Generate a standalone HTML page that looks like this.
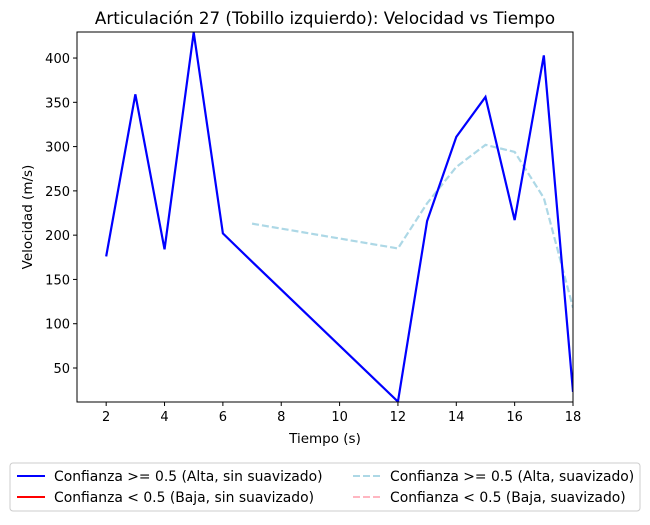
<!DOCTYPE html>
<html><head><meta charset="utf-8"><style>
body{margin:0;background:#fff;font-family:"Liberation Sans","DejaVu Sans",sans-serif;}
</style></head><body>
<svg width="650" height="520" xmlns="http://www.w3.org/2000/svg" font-family="DejaVu Sans, Liberation Sans, sans-serif">
<text x="325" y="24" text-anchor="middle" font-size="16.7">Articulación 27 (Tobillo izquierdo): Velocidad vs Tiempo</text>
<g id="axes"></g>
<g id="series"></g>
<rect x="77" y="32" width="496" height="370" fill="none" stroke="#000" stroke-width="1"/>
<text x="325" y="443" text-anchor="middle" font-size="13.5">Tiempo (s)</text>
<text transform="translate(32,217) rotate(-90)" text-anchor="middle" font-size="13.5">Velocidad (m/s)</text>
<g>
<rect x="10" y="463" width="630" height="48" rx="3" fill="#fff" stroke="#ccc"/>
<g><line x1="17" y1="476" x2="45" y2="476" stroke="#0000ff" stroke-width="2"/><text x="54" y="481" font-size="13.9">Confianza &gt;= 0.5 (Alta, sin suavizado)</text></g>
<g><line x1="17" y1="497" x2="45" y2="497" stroke="#ff0000" stroke-width="2"/><text x="54" y="502" font-size="13.9">Confianza &lt; 0.5 (Baja, sin suavizado)</text></g>
<g><line x1="353" y1="476" x2="381" y2="476" stroke="#add8e6" stroke-width="2" stroke-dasharray="7,3"/><text x="390" y="481" font-size="13.9">Confianza &gt;= 0.5 (Alta, suavizado)</text></g>
<g><line x1="353" y1="497" x2="381" y2="497" stroke="#ffb6c1" stroke-width="2" stroke-dasharray="7,3"/><text x="390" y="502" font-size="13.9">Confianza &lt; 0.5 (Baja, suavizado)</text></g>
</g>
</svg>
<script>
const rawX=[2,3,4,5,6,7,12,13,14,15,16,17,18];
const rawY=[176,359,184,429,202,170,12,216,311,356,217,403,23];
const smX=[7,12,13,14,15,16,17,18];
const smY=[213,185,236,277,302,294,242,118];
const xTicks=[2,4,6,8,10,12,14,16,18];
const yTicks=[50,100,150,200,250,300,350,400];
const NS="http://www.w3.org/2000/svg";
const L=77,R=573,T=32,B=402,xMin=1,xMax=18,yMin=11.6,yMax=429.4;
function sx(v){return L+(v-xMin)/(xMax-xMin)*(R-L);}
function sy(v){return B-(v-yMin)/(yMax-yMin)*(B-T);}
const axes=document.getElementById('axes');
xTicks.forEach(t=>{
 const l=document.createElementNS(NS,'line');
 l.setAttribute('x1',sx(t));l.setAttribute('x2',sx(t));l.setAttribute('y1',B);l.setAttribute('y2',B+4);l.setAttribute('stroke','#000');
 
 
 axes.appendChild(l);
 const tx=document.createElementNS(NS,'text');
 tx.setAttribute('x',sx(t));tx.setAttribute('y',B+19);tx.setAttribute('text-anchor','middle');tx.setAttribute('font-size','13');tx.textContent=t;
 
 
 axes.appendChild(tx);
});
yTicks.forEach(t=>{
 const l=document.createElementNS(NS,'line');
 l.setAttribute('x1',L-4);l.setAttribute('x2',L);l.setAttribute('y1',sy(t));l.setAttribute('y2',sy(t));l.setAttribute('stroke','#000');
 
 
 axes.appendChild(l);
 const tx=document.createElementNS(NS,'text');
 tx.setAttribute('x',L-7);tx.setAttribute('y',sy(t)+5);tx.setAttribute('text-anchor','end');tx.setAttribute('font-size','13');tx.textContent=t;
 
 
 axes.appendChild(tx);
});
const ser=document.getElementById('series');
const cp=document.createElementNS(NS,'clipPath');cp.setAttribute('id','clip');
const cr=document.createElementNS(NS,'rect');cr.setAttribute('x',L);cr.setAttribute('y',T);cr.setAttribute('width',R-L);cr.setAttribute('height',B-T);
cp.appendChild(cr);ser.appendChild(cp);
function line(xs,ys,color,dash){
 const p=document.createElementNS(NS,'polyline');
 p.setAttribute('points',xs.map((x,i)=>sx(x)+','+sy(ys[i])).join(' '));
 p.setAttribute('fill','none');p.setAttribute('stroke',color);p.setAttribute('stroke-width','2.2');
 p.setAttribute('clip-path','url(#clip)');
 if(dash)p.setAttribute('stroke-dasharray',dash);
 ser.appendChild(p);return p;
}
const s1=line(smX,smY,'#add8e6','7,3');


const s2=line(rawX,rawY,'#0000ff',null);


</script>
</body></html>
